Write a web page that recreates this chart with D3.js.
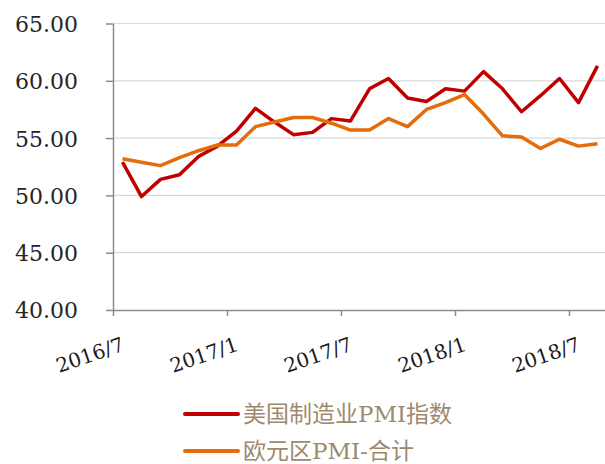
<!DOCTYPE html>
<html>
<head>
<meta charset="utf-8">
<script src="https://cdn.jsdelivr.net/npm/d3@7"></script>
<style>
  body { margin: 0; background: #fff; }
  svg { display: block; }
</style>
</head>
<body>
<div id="chart"></div>
<script>
const months = [
    "2016/7", "2016/8", "2016/9", "2016/10", "2016/11", "2016/12",
    "2017/1", "2017/2", "2017/3", "2017/4", "2017/5", "2017/6",
    "2017/7", "2017/8", "2017/9", "2017/10", "2017/11", "2017/12",
    "2018/1", "2018/2", "2018/3", "2018/4", "2018/5", "2018/6",
    "2018/7", "2018/8"
];

const usPmi = [
    52.9, 49.9, 51.4, 51.8, 53.4, 54.3,
    55.6, 57.6, 56.4, 55.3, 55.5, 56.7,
    56.5, 59.3, 60.2, 58.5, 58.2, 59.3,
    59.1, 60.8, 59.3, 57.3, 58.7, 60.2,
    58.1, 61.3
];

const euPmi = [
    53.2, 52.9, 52.6, 53.3, 53.9, 54.4,
    54.4, 56.0, 56.4, 56.8, 56.8, 56.3,
    55.7, 55.7, 56.7, 56.0, 57.5, 58.1,
    58.8, 57.1, 55.2, 55.1, 54.1, 54.9,
    54.3, 54.5
];

const seriesNames = ["美国制造业PMI指数", "欧元区PMI-合计"];
const seriesColors = ["#c00000", "#e46c0a"];
const yTicks = [40, 45, 50, 55, 60, 65];
const xTickLabels = ["2016/7", "2017/1", "2017/7", "2018/1", "2018/7"];

const width = 605;
const height = 464;
const plotLeft = 113, plotTop = 23.5, plotBottom = 310;
const step = 19;
const serifFont = "'DejaVu Serif', 'Liberation Serif', serif";

const svg = d3.select("#chart").append("svg")
    .attr("width", width)
    .attr("height", height);

// Scales
const x = d3.scaleBand()
    .domain(months)
    .range([plotLeft, plotLeft + months.length * step])
    .padding(0);

const xi = d3.scaleLinear()
    .domain([0, months.length])
    .range([plotLeft, plotLeft + months.length * step]);

const y = d3.scaleLinear()
    .domain([40, 65])
    .range([plotBottom, plotTop]);

// Gridlines
svg.append("g")
    .selectAll("line")
    .data(yTicks.filter(d => d > 40))
    .enter()
    .append("line")
    .attr("x1", plotLeft)
    .attr("x2", width)
    .attr("y1", d => y(d))
    .attr("y2", d => y(d))
    .attr("stroke", "#d9d9d9")
    .attr("stroke-width", 1.2);

// Y axis
const yAxis = svg.append("g")
    .attr("transform", `translate(${plotLeft},0)`)
    .call(d3.axisLeft(y).tickValues(yTicks).tickSize(7).tickSizeOuter(0)
        .tickFormat(d3.format(".2f")));
yAxis.selectAll("path, line").attr("stroke", "#8c8c8c").attr("stroke-width", 1.5);
yAxis.selectAll("text")
    .attr("x", -35)
    .attr("dy", "0.36em")
    .style("font-family", serifFont)
    .style("font-size", "22px")
    .style("font-weight", "300")
    .style("fill", "#262626");

// X axis (ticks on month boundaries)
const tickIdx = xTickLabels.map(l => months.indexOf(l));
const xAxis = svg.append("g")
    .attr("transform", `translate(0,${plotBottom})`)
    .call(d3.axisBottom(xi).tickValues(tickIdx).tickSize(6).tickSizeOuter(0)
        .tickFormat(i => months[i]));
xAxis.selectAll("path, line").attr("stroke", "#8c8c8c").attr("stroke-width", 1.5);
xAxis.selectAll("text")
    .attr("y", 0)
    .attr("dy", 0)
    .attr("text-anchor", "end")
    .attr("transform", "translate(12,40) rotate(-19)")
    .style("font-family", serifFont)
    .style("font-size", "20px")
    .style("fill", "#1a1a1a");

// Lines
const line = d3.line()
    .x((d, i) => x(months[i]) + x.bandwidth() / 2)
    .y(d => y(d));

[usPmi, euPmi].forEach((vals, k) => {
    svg.append("path")
        .datum(vals)
        .attr("fill", "none")
        .attr("stroke", seriesColors[k])
        .attr("stroke-width", 3.5)
        .attr("stroke-linejoin", "round")
        .attr("d", line);
});

// Legend
const legend = svg.append("g");
seriesNames.forEach((name, k) => {
    const ly = 414 + k * 37;
    legend.append("line")
        .attr("x1", 185)
        .attr("x2", 238)
        .attr("y1", ly)
        .attr("y2", ly)
        .attr("stroke", seriesColors[k])
        .attr("stroke-width", 4)
        .attr("stroke-linecap", "round");
    legend.append("text")
        .attr("x", 243)
        .attr("y", ly + 8)
        .style("font-family", serifFont + ", 'Noto Sans CJK SC'")
        .style("font-size", "23px")
        .style("fill", "#9c8a6e")
        .text(name);
});
</script>
</body>
</html>
